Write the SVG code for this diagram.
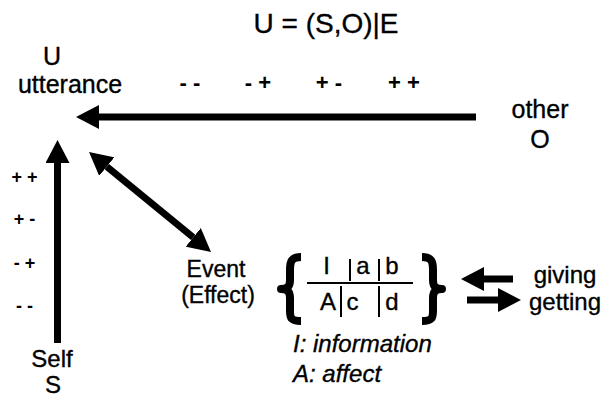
<svg xmlns="http://www.w3.org/2000/svg" width="604" height="398" viewBox="0 0 604 398">
<style>
text{font-family:"Liberation Sans",Arial,sans-serif;fill:#000;stroke:#000;stroke-width:0.35}
.lbl{font-size:25px;text-anchor:middle}
.sm{font-size:23px;text-anchor:middle}
.tb{font-size:24px;text-anchor:middle}
.sign{font-size:22px;font-weight:bold;text-anchor:middle;stroke-width:0}
.sign2{font-size:18px;font-weight:bold;text-anchor:middle;stroke-width:0}
.it{font-size:24px;font-style:italic}
.conn{stroke:#000;stroke-width:7;fill:none}
.brace{stroke:#000;stroke-width:8;fill:none;stroke-linejoin:round}
.rule{stroke:#000;stroke-width:2}
</style>
<defs>
<marker id="head" viewBox="0 0 23 24" markerWidth="23" markerHeight="24" refX="0" refY="12" orient="auto-start-reverse" markerUnits="userSpaceOnUse">
<path d="M0,0 L23,12 L0,24 z" fill="#000"/>
</marker>
</defs>
<g id="title"><text x="326" y="33" style="font-size:28px;text-anchor:middle">U = (S,O)|E</text></g>
<g id="utterance"><text class="lbl" x="52" y="65">U</text><text class="lbl" x="70" y="93">utterance</text></g>
<g id="other"><text class="lbl" x="540" y="118">other</text><text class="lbl" x="540" y="148">O</text></g>
<g id="self"><text class="lbl" x="52" y="367" style="font-size:24px">Self</text><text class="lbl" x="53" y="393" style="font-size:24px">S</text></g>
<g id="top-signs">
<text class="sign" x="190" y="90">- -</text>
<text class="sign" x="258" y="90">- +</text>
<text class="sign" x="329" y="90">+ -</text>
<text class="sign" x="404" y="90">+ +</text>
</g>
<g id="left-signs">
<text class="sign2" x="24.5" y="183">+ +</text>
<text class="sign2" x="24.5" y="225">+ -</text>
<text class="sign2" x="24.5" y="269">- +</text>
<text class="sign2" x="24.5" y="312">- -</text>
</g>
<g id="event"><text class="sm" x="216" y="277">Event</text><text class="sm" x="218" y="303">(Effect)</text></g>
<g id="table">
<path class="brace" d="M301,257 C291,257 290,262 290,270 L290,280 C290,286 288,289 281,289 C288,289 290,292 290,298 L290,311 C290,318 291,321 301,321"/>
<path class="brace" d="M422,257 C432,257 433,262 433,270 L433,280 C433,286 435,289 442,289 C435,289 433,292 433,298 L433,311 C433,318 432,321 422,321"/>
<text class="tb" x="326.5" y="274">I</text>
<text class="tb" x="363" y="274">a</text>
<text class="tb" x="392" y="274">b</text>
<text class="tb" x="328" y="310">A</text>
<text class="tb" x="352.5" y="310">c</text>
<text class="tb" x="392" y="310">d</text>
<line class="rule" x1="307" y1="283" x2="413" y2="283"/>
<line class="rule" x1="350" y1="259" x2="350" y2="281"/>
<line class="rule" x1="379" y1="259" x2="379" y2="281"/>
<line class="rule" x1="341" y1="286" x2="341" y2="317"/>
<line class="rule" x1="379" y1="286" x2="379" y2="317"/>
</g>
<g id="legend"><text class="it" x="293" y="352">I: information</text><text class="it" x="293" y="382">A: affect</text></g>
<g id="giving-getting"><text class="lbl" x="565" y="283" style="font-size:24px">giving</text><text class="lbl" x="565" y="310" style="font-size:24px">getting</text></g>
<g id="connectors">
<line class="conn" x1="476" y1="117" x2="99" y2="117" marker-end="url(#head)"/>
<line class="conn" x1="57.5" y1="343" x2="57.5" y2="163" marker-end="url(#head)"/>
<line class="conn" x1="106.8" y1="166.6" x2="193.2" y2="237.4" marker-start="url(#head)" marker-end="url(#head)"/>
<line class="conn" x1="513" y1="279" x2="484" y2="279" marker-end="url(#head)"/>
<line class="conn" x1="467" y1="300" x2="498" y2="300" marker-end="url(#head)"/>
</g>
</svg>
